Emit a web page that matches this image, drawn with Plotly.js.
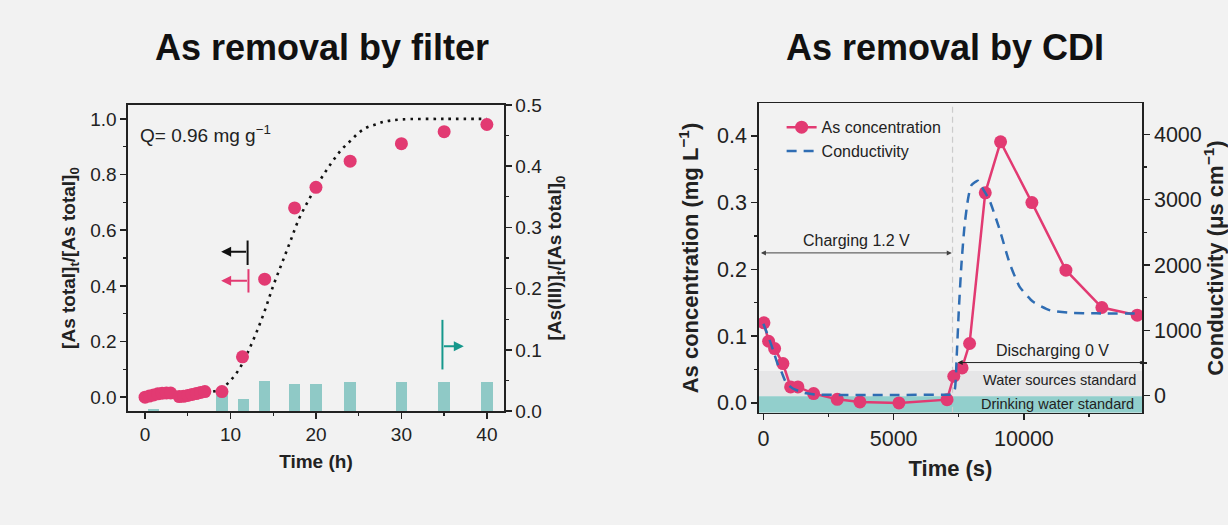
<!DOCTYPE html>
<html>
<head>
<meta charset="utf-8">
<script src="https://cdn.plot.ly/plotly-3.0.1.min.js"></script>
<style>
html,body{margin:0;padding:0;background:#f2f2f2;}
#chart{width:1228px;height:525px;}
</style>
</head>
<body>
<div id="chart"></div>
<script>
// ---------- Left panel: As removal by filter ----------
const filterTime = [0, 0.5, 1, 1.5, 2, 2.5, 3, 4, 4.5, 5, 5.5, 6, 6.5, 7, 9, 11.4, 14, 17.5, 20, 24, 30, 35, 40];
const filterAsTotal = [0.0, 0.004, 0.008, 0.012, 0.014, 0.015, 0.015, 0.002, 0.003, 0.006, 0.01, 0.013, 0.017, 0.02, 0.02, 0.145, 0.424, 0.68, 0.754, 0.848, 0.911, 0.954, 0.98];

const fitTime = [0, 2, 4, 6, 8, 9, 10, 11, 12, 13, 14, 15, 16, 17, 18, 19, 20, 21, 22, 23, 24, 25, 26, 27, 28, 30, 35, 40];
const fitValue = [0.0, 0.003, 0.006, 0.011, 0.02, 0.032, 0.06, 0.1, 0.16, 0.23, 0.31, 0.4, 0.48, 0.56, 0.64, 0.7, 0.755, 0.805, 0.85, 0.89, 0.92, 0.95, 0.97, 0.98, 0.99, 0.998, 1.0, 1.0];

const barTime = [1, 9, 11.5, 14, 17.5, 20, 24, 30, 35, 40];
const barAsIII = [0.004, 0.03, 0.019, 0.049, 0.044, 0.045, 0.047, 0.047, 0.047, 0.047];

// ---------- Right panel: As removal by CDI ----------
const cdiTime = [22, 201, 432, 751, 1046, 1326, 1928, 2836, 3706, 5203, 7050, 7309, 7626, 7914, 8516, 9104, 10306, 11611, 12992, 14349];
const cdiAs = [0.12, 0.0924, 0.0815, 0.059, 0.024, 0.024, 0.014, 0.0055, 0.0015, 0.0, 0.005, 0.04, 0.0525, 0.089, 0.3146, 0.391, 0.3, 0.1988, 0.1429, 0.1314];

const condTime = [0, 240, 370, 560, 690, 880, 1130, 1580, 2100, 3000, 5000, 7000, 7250, 7350, 7420, 7500, 7600, 7720, 7850, 7980, 8230, 8450, 8680, 9070, 9450, 9830, 10340, 10980, 11750, 12780, 14500];
const condValue = [1100, 850, 700, 470, 370, 190, 110, 40, 15, 12, 12, 15, 25, 100, 600, 1300, 2000, 2600, 3000, 3220, 3290, 3150, 2990, 2540, 2030, 1670, 1440, 1310, 1270, 1260, 1260];

const FONT = 'Liberation Sans, Arial, sans-serif';
const PINK = '#e23a72';
const BLUE = '#2f6db3';
const TEALBAR = '#8fc9c6';
const TEAL = '#16988c';

const traces = [
  {type:'bar', x: barTime, y: barAsIII, xaxis:'x', yaxis:'y', width: 1.35,
   marker:{color: TEALBAR}, showlegend:false, hoverinfo:'x+y'},
  {type:'scatter', mode:'lines', x: fitTime, y: fitValue, xaxis:'x', yaxis:'y2',
   line:{color:'#111', width:2.6, dash:'2.6px,5px', shape:'spline'}, showlegend:false},
  {type:'scatter', mode:'markers', x: filterTime, y: filterAsTotal, xaxis:'x', yaxis:'y2',
   marker:{color: PINK, size:13}, showlegend:false},
  {type:'scatter', mode:'lines+markers', name:'As concentration', x: cdiTime, y: cdiAs, xaxis:'x2', yaxis:'y3',
   line:{color: PINK, width:2.5}, marker:{color: PINK, size:13}},
  {type:'scatter', mode:'lines', name:'Conductivity', x: condTime, y: condValue, xaxis:'x2', yaxis:'y4',
   line:{color: BLUE, width:2.5, dash:'10px,7px', shape:'spline', smoothing:0.5}}
];

const axBase = {showline:true, linecolor:'#222', linewidth:1.6, ticks:'outside', ticklen:6, tickwidth:1.5,
  tickcolor:'#222', showgrid:false, zeroline:false};

const ARW = {font:{size:1}, showarrow:true, arrowhead:2, arrowsize:1, arrowwidth:2, standoff:0, startstandoff:0};

const layout = {
  width:1228, height:525,
  paper_bgcolor:'#f2f2f2', plot_bgcolor:'#f2f2f2',
  margin:{l:0, r:0, t:0, b:0},
  font:{family: FONT, color:'#222'},
  bargap:0,
  showlegend:true,
  legend:{x:0.6365, y:0.79, xanchor:'left', yanchor:'top', bgcolor:'rgba(0,0,0,0)',
    font:{size:16, color:'#222'}, tracegroupgap:0, itemwidth:30},
  xaxis: Object.assign({}, axBase, {domain:[0.1042,0.4104], range:[-2,42], anchor:'y', mirror:true,
    dtick:10, tick0:0, tickfont:{size:19}, minor:{ticks:'outside', ticklen:3, dtick:5, tickcolor:'#222', tickwidth:1.3},
    title:{text:'<b>Time (h)</b>', font:{size:19, color:'#222'}, standoff:10}}),
  yaxis: Object.assign({}, axBase, {domain:[0.217,0.8], range:[0,0.5], anchor:'x', side:'right',
    dtick:0.1, tickformat:'.1f', tickfont:{size:19}, minor:{ticks:'outside', ticklen:3, dtick:0.05, tickcolor:'#222', tickwidth:1.3},
    title:{text:'<b>[As(III)]<sub>t</sub>/[As total]<sub>0</sub></b>', font:{size:19, color:'#222'}, standoff:6}}),
  yaxis2: Object.assign({}, axBase, {overlaying:'y', range:[-0.05,1.05], anchor:'x', side:'left',
    dtick:0.2, tickformat:'.1f', tickfont:{size:19}, minor:{ticks:'outside', ticklen:3, dtick:0.1, tickcolor:'#222', tickwidth:1.3},
    title:{text:'<b>[As total]<sub>t</sub>/[As total]<sub>0</sub></b>', font:{size:19, color:'#222'}, standoff:9}}),
  xaxis2: Object.assign({}, axBase, {domain:[0.618,0.930], range:[-171,14533], anchor:'y3', mirror:true,
    dtick:5000, tick0:0, tickformat:'d', tickfont:{size:21.5}, minor:{ticks:'outside', ticklen:3, dtick:2500, tickcolor:'#222', tickwidth:1.3},
    title:{text:'<b>Time (s)</b>', font:{size:22, color:'#222'}, standoff:10}}),
  yaxis3: Object.assign({}, axBase, {domain:[0.214,0.803], range:[-0.0145,0.4485], anchor:'x2', side:'left',
    dtick:0.1, tickformat:'.1f', tickfont:{size:21.5}, minor:{ticks:'outside', ticklen:3, dtick:0.05, tickcolor:'#222', tickwidth:1.3},
    title:{text:'<b>As concentration (mg L<sup>−1</sup>)</b>', font:{size:22, color:'#222'}, standoff:12}}),
  yaxis4: Object.assign({}, axBase, {overlaying:'y3', range:[-260,4474], anchor:'x2', side:'right',
    dtick:1000, tickformat:'d', tickfont:{size:21.5}, minor:{ticks:'outside', ticklen:3, dtick:500, tickcolor:'#222', tickwidth:1.3},
    title:{text:'<b>Conductivity (μs cm<sup>−1</sup>)</b>', font:{size:22, color:'#222'}, standoff:10}}),
  shapes: [
    // standards bands
    {type:'rect', xref:'x2 domain', yref:'y3', x0:0, x1:1, y0:0.01, y1:0.048, fillcolor:'#e6e6e7', line:{width:0}, layer:'below'},
    {type:'rect', xref:'x2 domain', yref:'y3', x0:0, x1:1, y0:-0.0145, y1:0.01, fillcolor:'#92cfcc', line:{width:0}, layer:'below'},
    // charging/discharging boundary
    {type:'line', xref:'x2', yref:'y3 domain', x0:7260, x1:7260, y0:0, y1:1, line:{color:'#cccccc', width:1.2, dash:'6px,4px'}, layer:'below'},
    // arrow stems (left panel)
    {type:'line', xref:'x', yref:'y2', x0:12.0, x1:12.0, y0:0.475, y1:0.563, line:{color:'#111', width:2}},
    {type:'line', xref:'x', yref:'y2', x0:12.1, x1:12.1, y0:0.376, y1:0.46, line:{color:PINK, width:2}},
    {type:'line', xref:'x', yref:'y', x0:34.8, x1:34.8, y0:0.068, y1:0.149, line:{color:TEAL, width:2}}
  ],
  annotations: [
    {text:'<b>As removal by filter</b>', xref:'paper', yref:'paper', x:0.2622, y:0.909, xanchor:'center', yanchor:'middle',
     showarrow:false, font:{size:36, color:'#111'}},
    {text:'<b>As removal by CDI</b>', xref:'paper', yref:'paper', x:0.7695, y:0.909, xanchor:'center', yanchor:'middle',
     showarrow:false, font:{size:36, color:'#111'}},
    {text:'Q= 0.96 mg g<sup>−1</sup>', xref:'paper', yref:'paper', x:0.1124, y:0.745, xanchor:'left', yanchor:'middle',
     showarrow:false, font:{size:19, color:'#222'}},
    // left panel arrows
    Object.assign({}, ARW, {text:' ', xref:'x', yref:'y2', x:8.9, y:0.523, axref:'x', ayref:'y2', ax:12.0, ay:0.523, arrowcolor:'#111'}),
    Object.assign({}, ARW, {text:' ', xref:'x', yref:'y2', x:8.9, y:0.418, axref:'x', ayref:'y2', ax:12.1, ay:0.418, arrowcolor:PINK}),
    Object.assign({}, ARW, {text:' ', xref:'x', yref:'y', x:37.3, y:0.106, axref:'x', ayref:'y', ax:34.8, ay:0.106, arrowcolor:TEAL}),
    // right panel arrows and labels
    Object.assign({}, ARW, {text:' ', xref:'x2', yref:'y3', x:7230, y:0.2247, axref:'x2', ayref:'y3', ax:-150, ay:0.2247,
     arrowside:'end+start', startarrowhead:2, startarrowsize:1, arrowwidth:1, arrowcolor:'#444'}),
    {text:'Charging 1.2 V', xref:'x2', yref:'y3', x:3570, y:0.2427, xanchor:'center', yanchor:'middle',
     showarrow:false, font:{size:16, color:'#222'}},
    Object.assign({}, ARW, {text:' ', xref:'x2', yref:'y3', x:14500, y:0.0605, axref:'x2', ayref:'y3', ax:7400, ay:0.0605,
     arrowside:'end+start', arrowhead:6, startarrowhead:2, arrowsize:0.8, startarrowsize:1, arrowwidth:1, arrowcolor:'#222'}),
    {text:'Discharging 0 V', xref:'x2', yref:'y3', x:11080, y:0.079, xanchor:'center', yanchor:'middle',
     showarrow:false, font:{size:16, color:'#222'}},
    {text:'Water sources standard', xref:'x2', yref:'y3', x:14370, y:0.034, xanchor:'right', yanchor:'middle',
     showarrow:false, font:{size:14.5, color:'#222'}},
    {text:'Drinking water standard', xref:'x2', yref:'y3', x:14310, y:-0.002, xanchor:'right', yanchor:'middle',
     showarrow:false, font:{size:14.5, color:'#222'}}
  ]
};

Plotly.newPlot('chart', traces, layout, {displayModeBar:false, staticPlot:true});
</script>
</body>
</html>
